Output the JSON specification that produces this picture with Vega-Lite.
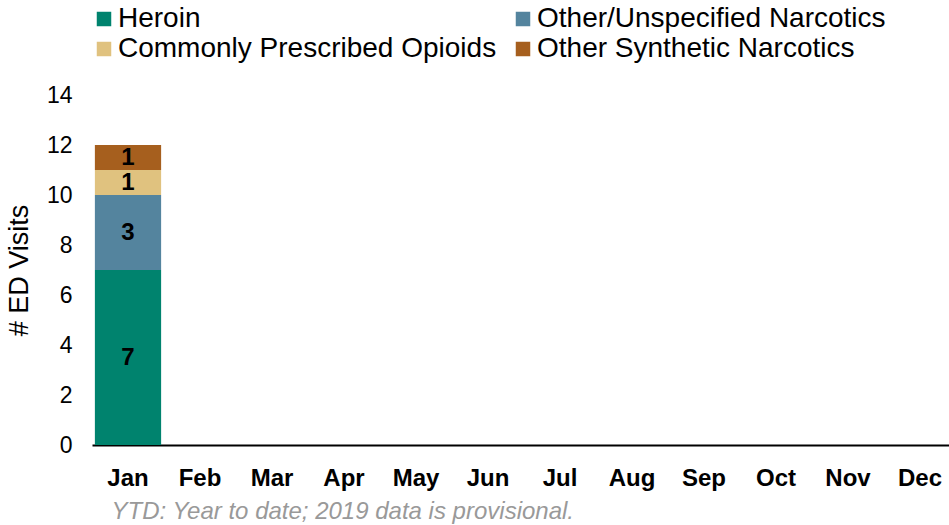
{
  "$schema": "https://vega.github.io/schema/vega-lite/v6.json",
  "width": 864,
  "height": 350,
  "autosize": {"type": "none"},
  "padding": {"left": 92, "top": 95, "right": 0, "bottom": 80},
  "background": "white",
  "config": {
    "font": "Liberation Sans",
    "view": {"stroke": null},
    "axis": {"grid": false}
  },
  "data": {
    "values": [
      {"month": "Jan", "type": "Heroin", "visits": 7, "ord": 1},
      {"month": "Jan", "type": "Other/Unspecified Narcotics", "visits": 3, "ord": 2},
      {"month": "Jan", "type": "Commonly Prescribed Opioids", "visits": 1, "ord": 3},
      {"month": "Jan", "type": "Other Synthetic Narcotics", "visits": 1, "ord": 4}
    ]
  },
  "transform": [
    {"stack": "visits", "groupby": ["month"], "sort": [{"field": "ord", "order": "ascending"}], "as": ["v0", "v1"]},
    {"calculate": "(datum.v0 + datum.v1) / 2", "as": "vmid"}
  ],
  "layer": [
    {
      "mark": {"type": "bar"},
      "encoding": {
        "x": {
          "field": "month", "type": "nominal",
          "scale": {"domain": ["Jan","Feb","Mar","Apr","May","Jun","Jul","Aug","Sep","Oct","Nov","Dec"], "paddingInner": 0.08, "paddingOuter": 0.04},
          "axis": {
            "labelAngle": 0, "labelFontSize": 24, "labelFontWeight": "bold", "labelColor": "#000000",
            "labelPadding": 21, "ticks": false, "domainColor": "#000000", "domainWidth": 2,
            "title": "YTD: Year to date; 2019 data is provisional.",
            "titleFontSize": 24, "titleFontStyle": "italic", "titleFontWeight": "normal", "titleColor": "#999999",
            "titleAnchor": "start", "titleAlign": "left", "titleX": 19, "titleY": 73, "titleBaseline": "alphabetic"
          }
        },
        "y": {
          "field": "v0", "type": "quantitative",
          "scale": {"domain": [0, 14]},
          "axis": {
            "values": [0,2,4,6,8,10,12,14], "labelFontSize": 23, "labelColor": "#000000", "labelPadding": 20,
            "ticks": false, "domain": false,
            "title": "# ED Visits", "titleFontSize": 27, "titleFontWeight": "normal", "titleColor": "#000000",
            "titlePadding": 13
          }
        },
        "y2": {"field": "v1"},
        "color": {
          "field": "type", "type": "nominal",
          "scale": {
            "domain": ["Heroin", "Other/Unspecified Narcotics", "Commonly Prescribed Opioids", "Other Synthetic Narcotics"],
            "range": ["#00836E", "#54849E", "#E0C27F", "#A65F1E"]
          },
          "legend": {
            "title": null, "orient": "none", "legendX": -2, "legendY": -90, "direction": "horizontal", "columns": 2,
            "symbolType": "square", "symbolSize": 210, "symbolStrokeWidth": 0, "labelFontSize": 28, "labelColor": "#000000",
            "labelOffset": 0, "columnPadding": 12, "rowPadding": 2, "padding": 0, "labelLimit": 500
          }
        }
      }
    },
    {
      "mark": {"type": "text", "fontSize": 24, "fontWeight": "bold", "color": "#000000", "baseline": "middle"},
      "encoding": {
        "x": {"field": "month", "type": "nominal"},
        "y": {"field": "vmid", "type": "quantitative"},
        "text": {"field": "visits", "type": "quantitative"}
      }
    }
  ]
}
